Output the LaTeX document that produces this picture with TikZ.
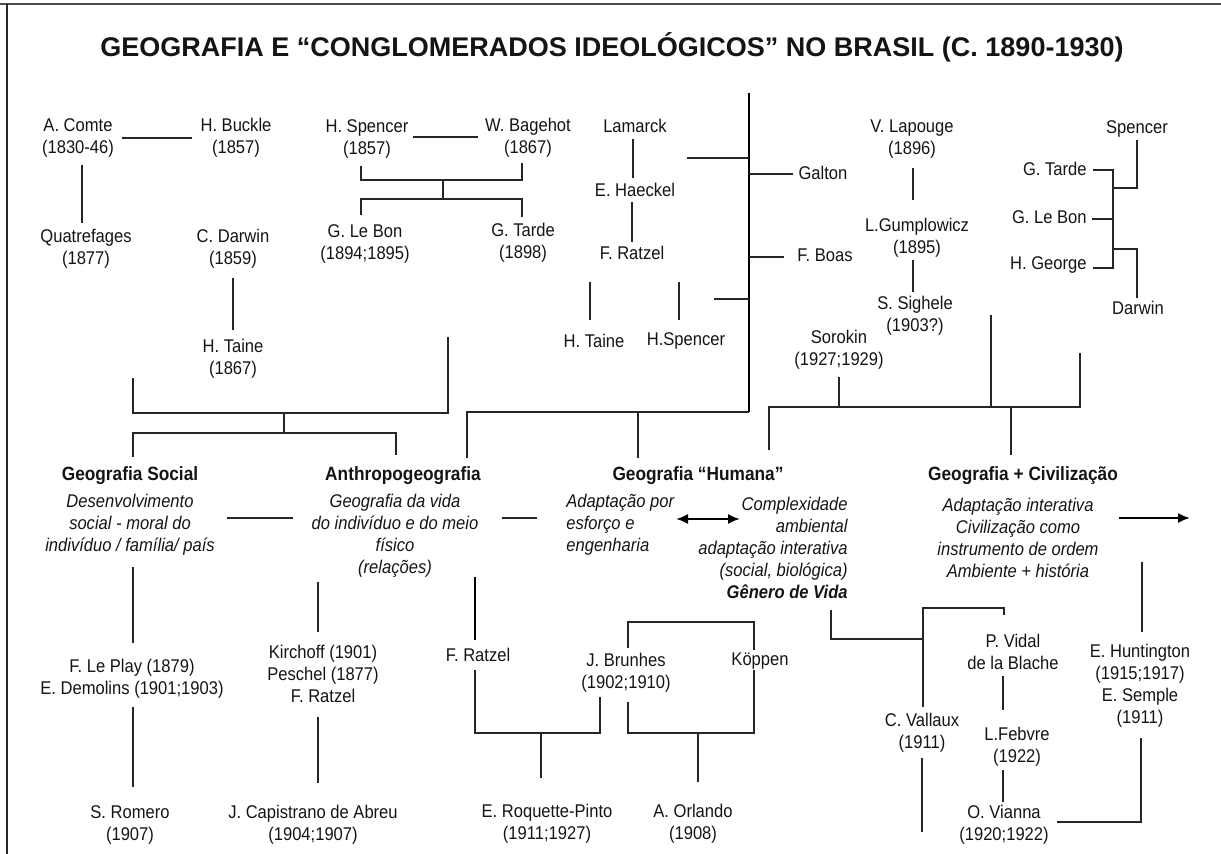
\documentclass[tikz,border=0pt]{standalone}
\usepackage{fontspec}
\setmainfont{Liberation Sans}[FakeStretch=0.9]
\newfontfamily\titlefont{Liberation Sans}
\usetikzlibrary{calc,arrows.meta}
\begin{document}
\begin{tikzpicture}[x=0.5pt,y=-0.5pt,
  every node/.style={inner sep=0pt, text=black!92},
  lbl/.style={align=center, font=\fontsize{9.2}{11}\selectfont},
  hd/.style={font=\fontsize{9.6}{11}\selectfont\bfseries},
  itx/.style={align=center, font=\fontsize{9.2}{11}\selectfont\itshape},
  ttl/.style={font=\titlefont\fontsize{13.5}{15}\selectfont\bfseries},
  ln/.style={line width=0.7pt, draw=black!85},
  thk/.style={line width=1.2pt, draw=black},
  arr/.style={line width=1pt, draw=black, -{Latex[length=6pt,width=5pt]}},
  darr/.style={line width=1pt, draw=black, {Latex[length=6pt,width=5pt]}-{Latex[length=6pt,width=5pt]}}]
\useasboundingbox (0,0) rectangle (1221,854);
% frame
\draw[line width=1.1pt, black!70] (0,4) -- (1221,4);
\draw[line width=1.4pt, black!85] (7,4) -- (7,854);

% title
\node[ttl] (title) at (612,47) {GEOGRAFIA E “CONGLOMERADOS IDEOLÓGICOS” NO BRASIL (C. 1890-1930)};

% top row
\node[lbl] (comte) at (78,137.5) {A. Comte\\(1830-46)};
\node[lbl] (buckle) at (236,137.5) {H. Buckle\\(1857)};
\node[lbl] (spencerA) at (367,139) {H. Spencer\\(1857)};
\node[lbl] (bagehot) at (528,137.5) {W. Bagehot\\(1867)};
\node[lbl] (quatre) at (86,248.5) {Quatrefages\\(1877)};
\node[lbl] (darwinA) at (233,248.5) {C. Darwin\\(1859)};
\node[lbl] (lebonA) at (365,243.5) {G. Le Bon\\(1894;1895)};
\node[lbl] (tardeA) at (523,242.5) {G. Tarde\\(1898)};
\node[lbl] (taineA) at (233,358.5) {H. Taine\\(1867)};
\node[lbl] (lamarck) at (635,126) {Lamarck};
\node[lbl] (haeckel) at (635,190) {E. Haeckel};
\node[lbl] (ratzelA) at (632,253) {F. Ratzel};
\node[lbl] (taineB) at (594,341) {H. Taine};
\node[lbl] (spencerB) at (686,341) {H.Spencer};
\node[lbl] (galton) at (823,173) {Galton};
\node[lbl] (boas) at (825,255) {F. Boas};
\node[lbl] (lapouge) at (912,139.5) {V. Lapouge\\(1896)};
\node[lbl] (gumplo) at (917,237.5) {L.Gumplowicz\\(1895)};
\node[lbl] (sighele) at (915,316) {S. Sighele\\(1903?)};
\node[lbl] (sorokin) at (839,350) {Sorokin\\(1927;1929)};
\node[lbl] (spencerC) at (1137,129) {Spencer};
\node[lbl, anchor=east] (tardeC) at (1087,169) {G. Tarde};
\node[lbl, anchor=east] (lebonC) at (1087,217) {G. Le Bon};
\node[lbl, anchor=east] (george) at (1087,265) {H. George};
\node[lbl] (darwinC) at (1138,308) {Darwin};

% middle row
\node[hd] (gsocial) at (130,476) {Geografia Social};
\node[itx] (gsocialT) at (130,524.3) {Desenvolvimento\\social - moral do\\indivíduo / família/ país};
\node[hd] (anthro) at (403,476) {Anthropogeografia};
\node[itx] (anthroT) at (395,536) {Geografia da vida\\do indivíduo e do meio\\físico\\(relações)};
\node[hd] (humana) at (698,476) {Geografia “Humana”};
\node[itx, anchor=west, align=left] (humanaL) at (566,525) {Adaptação por\\esforço e\\engenharia};
\node[itx, anchor=east, align=right] (humanaR) at (848,547.5) {Complexidade\\ambiental\\adaptação interativa\\(social, biológica)\\\textbf{Gênero de Vida}};
\node[hd] (civ) at (1023,476) {Geografia + Civilização};
\node[itx] (civT) at (1018,538) {Adaptação interativa\\Civilização como\\instrumento de ordem\\Ambiente + história};

% bottom row
\node[lbl] (leplay) at (132,679) {F. Le Play (1879)\\E. Demolins (1901;1903)};
\node[lbl] (romero) at (130,825) {S. Romero\\(1907)};
\node[lbl] (kirchoff) at (323,674) {Kirchoff (1901)\\Peschel (1877)\\F. Ratzel};
\node[lbl] (capistrano) at (313,825) {J. Capistrano de Abreu\\(1904;1907)};
\node[lbl] (ratzelC) at (478,655) {F. Ratzel};
\node[lbl] (brunhes) at (626,672.5) {J. Brunhes\\(1902;1910)};
\node[lbl] (koppen) at (760,661) {Köppen};
\node[lbl] (roquette) at (547,824) {E. Roquette-Pinto\\(1911;1927)};
\node[lbl] (orlando) at (693,824) {A. Orlando\\(1908)};
\node[lbl] (vidal) at (1013,651.5) {P. Vidal\\de la Blache};
\node[lbl] (vallaux) at (922,732.5) {C. Vallaux\\(1911)};
\node[lbl] (febvre) at (1017,747) {L.Febvre\\(1922)};
\node[lbl] (vianna) at (1004,825) {O. Vianna\\(1920;1922)};
\node[lbl] (hunt) at (1140,685.5) {E. Huntington\\(1915;1917)\\E. Semple\\(1911)};

% junction coordinates
\coordinate (jA) at (284,413);
\coordinate (jB) at (284,433);
\coordinate (jC) at (443,180);
\coordinate (jD) at (443,199);
\coordinate (vtop) at (749,93);
\coordinate (jE) at (749,412);
\coordinate (jG) at (991,315);
\coordinate (jH) at (1080,353);
\coordinate (jI) at (1011,407);
\coordinate (jK) at (541,733);
\coordinate (jL) at (698,733);

% connectors - left block
\draw[ln] ($(comte)+(44,0.5)$) -- ($(buckle)+(-44,0.5)$);
\draw[ln] ($(comte)+(4,27.5)$) -- ($(quatre)+(-4,-25.5)$);
\draw[ln] ($(darwinA)+(0,29.5)$) -- ($(taineA)+(0,-28.5)$);
\draw[ln] ($(taineA)+(-100,19.5)$) |- (jA) -| ($(taineA)+(215,-21.5)$);
\draw[ln] (jA) -- (jB);
\draw[ln] ($(gsocial)+(3,-19)$) |- (jB) -| ($(anthro)+(-7,-21)$);
% Spencer / Bagehot
\draw[ln] ($(spencerA)+(46,-2)$) -- ($(bagehot)+(-50,-0.5)$);
\draw[ln] ($(spencerA)+(-6,27)$) |- (jC) -| ($(bagehot)+(-6,25.5)$);
\draw[ln] (jC) -- (jD);
\draw[ln] ($(lebonA)+(-4,-28.5)$) |- (jD) -| ($(tardeA)+(-1,-25.5)$);
% Lamarck column
\draw[ln] ($(lamarck)+(-2,13)$) -- ($(haeckel)+(-2,-12)$);
\draw[ln] ($(haeckel)+(-3,12)$) -- ($(ratzelA)+(0,-11)$);
\draw[ln] ($(ratzelA)+(-42,29)$) -- ($(taineB)+(-4,-21)$);
\draw[ln] ($(ratzelA)+(47,29)$) -- ($(spencerB)+(-7,-21)$);
% big vertical
\draw[thk] (vtop) -- (jE);
\draw[ln] ($(lamarck)+(52,32)$) -- ($(lamarck)+(114,32)$);
\draw[ln] ($(galton)+(-74,1)$) -- ($(galton)+(-30,1)$);
\draw[ln] ($(boas)+(-76,2)$) -- ($(boas)+(-41,2)$);
\draw[ln] ($(spencerB)+(28,-42)$) -- ($(spencerB)+(63,-42)$);
\draw[ln] ($(anthro)+(64,-18)$) |- (jE);
\draw[ln] ($(humana)+(-60,-18)$) -- ($(humana)+(-60,-64)$);
% Lapouge column
\draw[ln] ($(lapouge)+(1,28.5)$) -- ($(gumplo)+(-4,-37.5)$);
\draw[ln] ($(gumplo)+(-4,22.5)$) -- ($(sighele)+(-2,-24)$);
\draw[ln] ($(sorokin)+(0,27)$) -- ($(sorokin)+(0,57)$);
\draw[ln] (jG) -- (jG |- jI);
\draw[ln] ($(humana)+(71,-26)$) |- (jI) -| (jH);
\draw[ln] (jI) -- ($(civ)+(-12,-21)$);
% right column
\draw[ln] ($(tardeC.east)+(6,1)$) -- ($(tardeC.east)+(26,1)$) -- ($(george.east)+(26,3)$) -- ($(george.east)+(6,3)$);
\draw[ln] ($(lebonC.east)+(5,2)$) -- ($(lebonC.east)+(26,2)$);
\draw[ln] ($(tardeC.east)+(26,19)$) -| ($(spencerC)+(0,11)$);
\draw[ln] ($(george.east)+(26,-16)$) -| ($(darwinC)+(-1,-10)$);
% middle row links
\draw[ln] ($(gsocial)+(97,42)$) -- ($(anthro)+(-110,42)$);
\draw[ln] ($(anthro)+(99,42)$) -- ($(anthro)+(134,42)$);
\draw[darr] ($(humana)+(-22,43)$) -- ($(humana)+(42,43)$);
\draw[arr] ($(civ)+(96,42)$) -- ($(civ)+(167,42)$);
% bottom links
\draw[ln] ($(gsocialT)+(3,43)$) -- ($(leplay)+(1,-36)$);
\draw[ln] ($(leplay)+(1,28)$) -- ($(romero)+(3,-38)$);
\draw[ln] ($(anthroT)+(-77,46)$) -- ($(kirchoff)+(-5,-42)$);
\draw[ln] ($(kirchoff)+(-5,43)$) -- ($(capistrano)+(5,-42)$);
\draw[thk] ($(anthro)+(72,101)$) -- ($(ratzelC)+(-3,-15)$);
\draw[ln] ($(ratzelC)+(-3,15)$) |- (jK) -| ($(brunhes)+(-26,24.5)$);
\draw[ln] (jK) -- ($(roquette)+(-6,-46)$);
\draw[ln] ($(brunhes)+(2,29.5)$) |- (jL) -| ($(koppen)+(-6,9)$);
\draw[ln] ($(koppen)+(-6,-11)$) |- ($(brunhes)+(2,-50.5)$) -- ($(brunhes)+(2,-24.5)$);
\draw[ln] (jL) -- ($(orlando)+(5,-42)$);
\draw[ln] ($(humanaR.east)+(-17,62.5)$) |- ($(vallaux)+(1,-93.5)$);
\draw[ln] ($(vallaux)+(1,-25.5)$) |- ($(vidal)+(-9,-43.5)$) -- ($(vidal)+(-9,-36.5)$);
\draw[ln] ($(vidal)+(-10,24.5)$) -- ($(febvre)+(-14,-37)$);
\draw[ln] ($(febvre)+(-14,23)$) -- ($(vianna)+(-1,-23)$);
\draw[ln] ($(vallaux)+(0,25.5)$) -- ($(vallaux)+(0,99.5)$);
\draw[ln] ($(civT)+(124,24)$) -- ($(hunt)+(2,-53.5)$);
\draw[ln] ($(hunt)+(1,52.5)$) |- ($(vianna)+(53,-3)$);
\end{tikzpicture}
\end{document}
